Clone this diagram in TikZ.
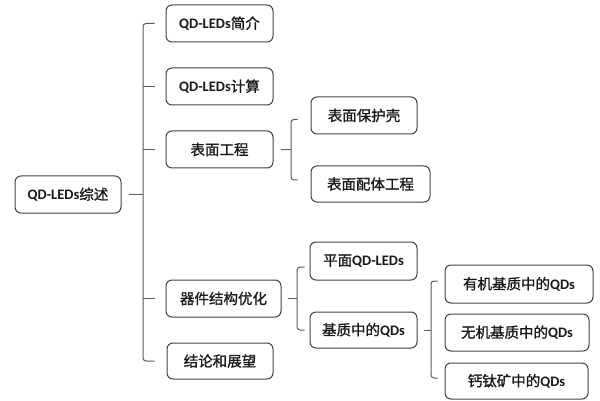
\documentclass[tikz,border=0pt]{standalone}
\usepackage{fontspec}
\setmainfont{Carlito}
\newfontfamily\cjk[FakeBold=1.2]{Noto Sans CJK SC}
\usetikzlibrary{calc}
\newcommand{\qd}[1]{{\bfseries #1}}
\newcommand{\zh}[1]{{\cjk #1}}
\begin{document}
\begin{tikzpicture}[x=1pt,y=-1pt,
  box/.style={draw=black!75, line width=1pt, rounded corners=6pt, inner sep=0pt,
    font=\fontsize{14.5}{16}\selectfont, text=black!90},
  conn/.style={draw=black!65, line width=1pt, rounded corners=3pt}]
\useasboundingbox (0,0) rectangle (600,401);
% boxes
\node[box, minimum width=106pt, minimum height=37pt] (root) at (68,194.5) {\qd{QD-LEDs}\zh{综述}};
\node[box, minimum width=107pt, minimum height=37pt] (a1) at (219.5,23.5) {\qd{QD-LEDs}\zh{简介}};
\node[box, minimum width=107pt, minimum height=37pt] (a2) at (219.5,86.5) {\qd{QD-LEDs}\zh{计算}};
\node[box, minimum width=107pt, minimum height=37pt] (a3) at (219.5,149.5) {\zh{表面工程}};
\node[box, minimum width=115pt, minimum height=37pt] (a4) at (223.5,298.5) {\zh{器件结构优化}};
\node[box, minimum width=106pt, minimum height=36pt] (a5) at (220,361) {\zh{结论和展望}};
\node[box, minimum width=106pt, minimum height=37pt] (b1) at (364,115.5) {\zh{表面保护壳}};
\node[box, minimum width=119pt, minimum height=36pt] (b2) at (370.5,184) {\zh{表面配体工程}};
\node[box, minimum width=107pt, minimum height=38pt] (c1) at (363.5,261) {\zh{平面}\qd{QD-LEDs}};
\node[box, minimum width=107pt, minimum height=36pt] (c2) at (363.5,330) {\zh{基质中的}\qd{QDs}};
\node[box, minimum width=148pt, minimum height=38pt] (d1) at (519,284) {\zh{有机基质中的}\qd{QDs}};
\node[box, minimum width=144pt, minimum height=37pt] (d2) at (517,332.5) {\zh{无机基质中的}\qd{QDs}};
\node[box, minimum width=143pt, minimum height=36pt] (d3) at (516.5,381) {\zh{钙钛矿中的}\qd{QDs}};
% bracket spine positions
\coordinate (k1) at (143,0);
\coordinate (k2) at (291,0);
\coordinate (k3) at (297,0);
\coordinate (k4) at (431,0);
% level 1
\draw[conn] ($(root.east)+(7,0)$) -- (k1 |- root.east);
\draw[conn] ($(a1.west)+(-11,0)$) -- (k1 |- a1.west) -- (k1 |- a5.west) -- ($(a5.west)+(-12,0)$);
\draw[conn] (k1 |- a2.west) -- ($(a2.west)+(-11,0)$);
\draw[conn] (k1 |- a3.west) -- ($(a3.west)+(-11,0)$);
\draw[conn] (k1 |- a4.west) -- ($(a4.west)+(-11,0)$);
% surface engineering
\draw[conn] ($(a3.east)+(7,0)$) -- (k2 |- a3.east);
\draw[conn] ($(b1.west)+(-13,4)$) -- ($(k2 |- b1.west)+(0,4)$) -- ($(k2 |- b2.west)+(0,-4)$) -- ($(b2.west)+(-13,-4)$);
% device structure
\draw[conn] ($(a4.east)+(6,0)$) -- (k3 |- a4.east);
\draw[conn] ($(c1.west)+(-5,6)$) -- ($(k3 |- c1.west)+(0,6)$) -- (k3 |- c2.west) -- ($(c2.west)+(-5,0)$);
% QDs in matrix
\draw[conn] ($(c2.east)+(6,0)$) -- (k4 |- c2.east);
\draw[conn] ($(d1.west)+(-7,-3)$) -- ($(k4 |- d1.west)+(0,-3)$) -- ($(k4 |- d3.west)+(0,-3)$) -- ($(d3.west)+(-7,-3)$);
\end{tikzpicture}
\end{document}
